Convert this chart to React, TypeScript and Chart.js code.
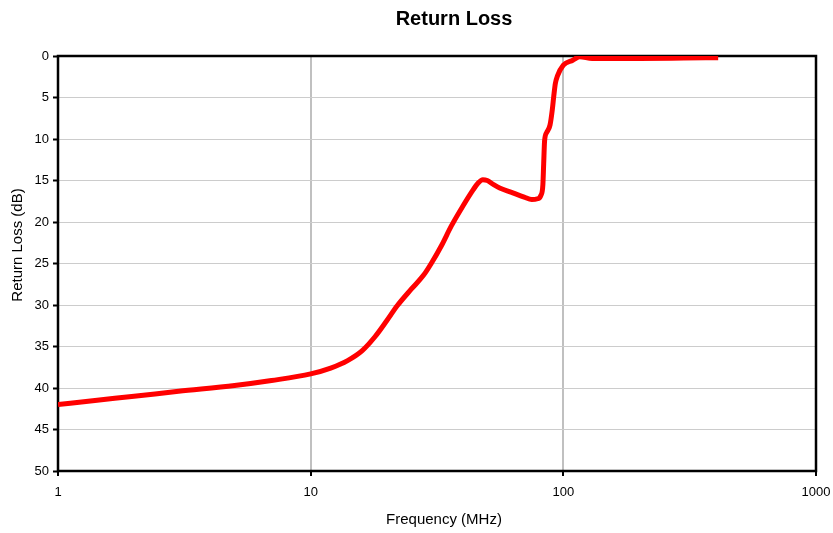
import React, { useEffect, useRef } from "react";
import { Chart, registerables } from "chart.js";

Chart.register(...registerables);

const frequencies = [1, 1.4, 2, 3, 5, 7, 10, 12, 14, 16, 18, 20, 22, 25, 28, 30, 33, 36, 40, 44, 46, 48, 50, 53, 56, 62, 70, 75, 79, 81.5, 83, 83.6, 84.3, 86, 88.6, 90.4, 91.6, 93, 94.8, 100, 109, 116, 130, 200, 300, 410];
const returnLoss = [42.0, 41.5, 41.0, 40.4, 39.7, 39.1, 38.3, 37.6, 36.7, 35.5, 33.8, 31.9, 30.1, 28.1, 26.4, 25.0, 22.8, 20.5, 18.1, 16.1, 15.3, 14.9, 15.0, 15.5, 15.9, 16.4, 17.0, 17.3, 17.2, 16.8, 15.5, 13.0, 10.2, 9.2, 8.3, 6.5, 4.9, 3.3, 2.4, 1.1, 0.5, 0.1, 0.3, 0.3, 0.25, 0.2];
const xTickValues = [1, 10, 100, 1000];
const yMin = 0;
const yMax = 50;
const yStep = 5;
const chartTitle = "Return Loss";
const xTitle = "Frequency (MHz)";
const yTitle = "Return Loss (dB)";

const FONT = "'Liberation Sans', Arial, sans-serif";

const framePlugin = {
  id: "frame",
  beforeDatasetsDraw(chart: any) {
    const { ctx, chartArea } = chart;
    ctx.save();
    ctx.strokeStyle = "#000";
    ctx.lineWidth = 2.5;
    ctx.strokeRect(chartArea.left, chartArea.top, chartArea.right - chartArea.left, chartArea.bottom - chartArea.top);
    ctx.restore();
  },
};

const titlesPlugin = {
  id: "titles",
  afterDraw(chart: any) {
    const { ctx } = chart;
    ctx.save();
    ctx.fillStyle = "#000";
    ctx.textAlign = "center";
    ctx.textBaseline = "middle";
    ctx.font = `bold 20px ${FONT}`;
    ctx.fillText(chartTitle, 454, 19);
    ctx.font = `15px ${FONT}`;
    ctx.fillText(xTitle, 444, 520);
    ctx.translate(18, 245);
    ctx.rotate(-Math.PI / 2);
    ctx.fillText(yTitle, 0, 0);
    ctx.restore();
  },
};

export default function App() {
  const ref = useRef<HTMLCanvasElement>(null);

  useEffect(() => {
    document.body.style.margin = "0";
    const data = frequencies.map((f, i) => ({ x: f, y: returnLoss[i] }));
    const chart = new Chart(ref.current!, {
      type: "line",
      data: {
        datasets: [
          {
            data,
            borderColor: "#ff0000",
            borderWidth: 5,
            pointRadius: 0,
            fill: false,
            cubicInterpolationMode: "monotone",
          } as any,
        ],
      },
      plugins: [framePlugin, titlesPlugin],
      options: {
        animation: false,
        responsive: false,
        parsing: false as any,
        layout: { padding: { left: 0, right: 17, top: 56, bottom: 0 } },
        plugins: {
          legend: { display: false },
          tooltip: { enabled: false },
          title: { display: false },
        },
        scales: {
          x: {
            type: "logarithmic",
            min: 1,
            max: 1000,
            afterBuildTicks: (scale: any) => {
              scale.ticks = xTickValues.map((v) => ({ value: v }));
            },
            afterFit: (scale: any) => {
              scale.height = 62;
              scale.paddingLeft = 0;
              scale.paddingRight = 0;
            },
            ticks: {
              autoSkip: false,
              maxRotation: 0,
              color: "#000",
              padding: 9,
              font: { family: FONT, size: 13 },
              callback: (v: any) => String(v),
            },
            grid: {
              color: (ctx: any) => (ctx.tick && (ctx.tick.value === 10 || ctx.tick.value === 100) ? "#c0c0c0" : "rgba(0,0,0,0)"),
              lineWidth: 2,
              tickColor: "#000",
              tickWidth: 2,
              tickLength: 5,
            },
            border: { display: false },
          },
          y: {
            type: "linear",
            reverse: true,
            min: yMin,
            max: yMax,
            afterFit: (scale: any) => {
              scale.width = 58;
              scale.paddingTop = 0;
              scale.paddingBottom = 0;
            },
            ticks: {
              stepSize: yStep,
              color: "#000",
              padding: 4,
              font: { family: FONT, size: 13 },
            },
            grid: {
              color: "#cccccc",
              lineWidth: 1,
              tickColor: "#000",
              tickWidth: 2,
              tickLength: 5,
            },
            border: { display: false },
          },
        },
      } as any,
    });
    return () => chart.destroy();
  }, []);

  return (
    <div style={{ position: "absolute", left: 0, top: 0, width: 833, height: 533 }}>
      <canvas ref={ref} width={833} height={533} style={{ width: 833, height: 533 }} />
    </div>
  );
}
